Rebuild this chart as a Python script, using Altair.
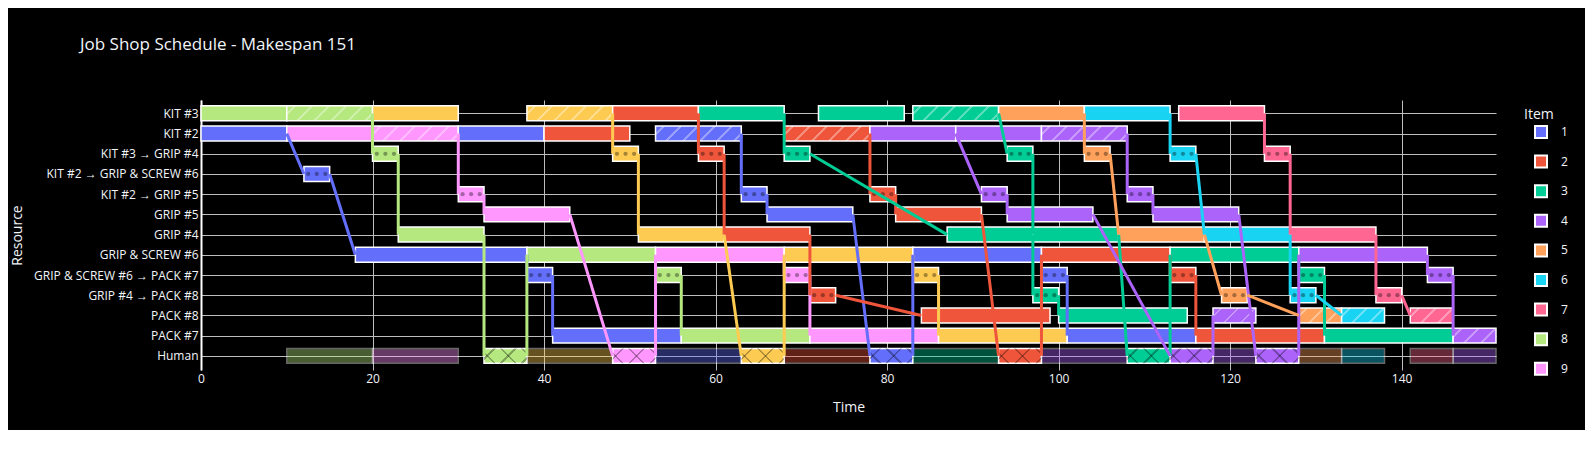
import json
import math
import altair as alt
import pandas as pd

# ---------------- data ----------------
ROWS = ["KIT #3", "KIT #2", "KIT #3 → GRIP #4", "KIT #2 → GRIP & SCREW #6",
        "KIT #2 → GRIP #5", "GRIP #5", "GRIP #4", "GRIP & SCREW #6",
        "GRIP & SCREW #6 → PACK #7", "GRIP #4 → PACK #8", "PACK #8", "PACK #7", "Human"]
ITEMS = ["1", "2", "3", "4", "5", "6", "7", "8", "9", "10"]
ITEM_COLORS = ["#636EFA", "#EF553B", "#00CC96", "#AB63FA", "#FFA15A",
               "#19D3F3", "#FF6692", "#B6E880", "#FF97FF", "#FECB52"]
LEGEND_ITEMS = ["1", "2", "3", "4", "5", "6", "7", "8", "9"]
X_TICKS = [0, 20, 40, 60, 80, 100, 120, 140]
MAKESPAN = 151
TITLE = "Job Shop Schedule - Makespan 151"

K3, K2, T34, T26, T25, G5, G4, GS6, T67, T48, P8, P7, HU = ROWS

# each job: item, then steps; a step is a list of segments (row, start, end, style)
JOB_01 = ("1", [[(K2, 0, 10, "solid")], [(T26, 12, 15, "dots")], [(GS6, 18, 38, "solid")],
                [(T67, 38, 41, "dots")], [(P7, 41, 56, "solid")]])
JOB_02 = ("8", [[(K3, 0, 10, "solid"), (K3, 10, 20, "hatch")], [(T34, 20, 23, "dots")],
                [(G4, 23, 33, "solid")], [(HU, 33, 38, "cross")], [(GS6, 38, 53, "solid")],
                [(T67, 53, 56, "dots")], [(P7, 56, 71, "solid")]])
JOB_03 = ("9", [[(K2, 10, 20, "solid"), (K2, 20, 30, "hatch")], [(T25, 30, 33, "dots")],
                [(G5, 33, 43, "solid")], [(HU, 48, 53, "cross")], [(GS6, 53, 68, "solid")],
                [(T67, 68, 71, "dots")], [(P7, 71, 86, "solid")]])
JOB_04 = ("10", [[(K3, 20, 30, "solid"), (K3, 38, 48, "hatch")], [(T34, 48, 51, "dots")],
                 [(G4, 51, 61, "solid")], [(HU, 63, 68, "cross")], [(GS6, 68, 83, "solid")],
                 [(T67, 83, 86, "dots")], [(P7, 86, 101, "solid")]])
JOB_05 = ("1", [[(K2, 30, 40, "solid"), (K2, 53, 63, "hatch")], [(T25, 63, 66, "dots")],
                [(G5, 66, 76, "solid")], [(HU, 78, 83, "cross")], [(GS6, 83, 98, "solid")],
                [(T67, 98, 101, "dots")], [(P7, 101, 116, "solid")]])
JOB_06 = ("2", [[(K3, 48, 58, "solid")], [(T34, 58, 61, "dots")], [(G4, 61, 71, "solid")],
                [(T48, 71, 74, "dots")], [(P8, 84, 99, "solid")]])
JOB_07 = ("2", [[(K2, 40, 50, "solid"), (K2, 68, 78, "hatch")], [(T25, 78, 81, "dots")],
                [(G5, 81, 91, "solid")], [(HU, 93, 98, "cross")], [(GS6, 98, 113, "solid")],
                [(T67, 113, 116, "dots")], [(P7, 116, 131, "solid")]])
JOB_08 = ("3", [[(K3, 58, 68, "solid")], [(T34, 68, 71, "dots")], [(G4, 87, 97, "solid")],
                [(T48, 97, 100, "dots")], [(P8, 100, 115, "solid")]])
JOB_09 = ("3", [[(K3, 72, 82, "solid"), (K3, 83, 93, "hatch")], [(T34, 94, 97, "dots")],
                [(G4, 97, 107, "solid")], [(HU, 108, 113, "cross")], [(GS6, 113, 128, "solid")],
                [(T67, 128, 131, "dots")], [(P7, 131, 146, "solid")]])
JOB_10 = ("4", [[(K2, 78, 88, "solid")], [(T25, 91, 94, "dots")], [(G5, 94, 104, "solid")],
                [(HU, 113, 118, "cross")], [(P8, 118, 123, "hatch")]])
JOB_11 = ("4", [[(K2, 88, 98, "solid"), (K2, 98, 108, "hatch")], [(T25, 108, 111, "dots")],
                [(G5, 111, 121, "solid")], [(HU, 123, 128, "cross")], [(GS6, 128, 143, "solid")],
                [(T67, 143, 146, "dots")], [(P7, 146, 151, "hatch")]])
JOB_12 = ("5", [[(K3, 93, 103, "solid")], [(T34, 103, 106, "dots")], [(G4, 107, 117, "solid")],
                [(T48, 119, 122, "dots")], [(P8, 128, 133, "hatch")]])
JOB_13 = ("6", [[(K3, 103, 113, "solid")], [(T34, 113, 116, "dots")], [(G4, 117, 127, "solid")],
                [(T48, 127, 130, "dots")], [(P8, 133, 138, "hatch")]])
JOB_14 = ("7", [[(K3, 114, 124, "solid")], [(T34, 124, 127, "dots")], [(G4, 127, 137, "solid")],
                [(T48, 137, 140, "dots")], [(P8, 141, 146, "hatch")]])
JOBS = [JOB_01, JOB_02, JOB_03, JOB_04, JOB_05, JOB_06, JOB_07,
        JOB_08, JOB_09, JOB_10, JOB_11, JOB_12, JOB_13, JOB_14]

# ---------------- layout constants ----------------
PLOT_W, PLOT_H = 1295, 270
Y_DOMAIN = [-0.66, 12.7]
HALF = 0.37
FG = "#f2f5fa"
GRID = "#bdbdbd"
FONT = "Open Sans"
DOT_OFFSETS = [0.5, 1.5, 2.5]

row_index = {r: i for i, r in enumerate(ROWS)}
item_hex = dict(zip(ITEMS, ITEM_COLORS))

bars, faded, links, dots = [], [], [], []
for item, steps in JOBS:
    for s_i, step in enumerate(steps):
        for (row, a, b, style) in step:
            yi = row_index[row]
            bars.append(dict(item=item, start=a, end=b, y0=yi - HALF, y1=yi + HALF,
                             style=style, dur=b - a))
            if style == "hatch":
                hy = row_index[HU]
                faded.append(dict(item=item, hex=item_hex[item], start=a, end=b,
                                  y0=hy - HALF, y1=hy + HALF))
            if style == "dots":
                for off in DOT_OFFSETS:
                    dots.append(dict(t=a + off, yc=yi))
        if s_i + 1 < len(steps):
            last = step[-1]
            nxt = steps[s_i + 1][0]
            links.append(dict(item=item, hex=item_hex[item], start=last[2], end=nxt[1],
                              ya=row_index[last[0]], yb=row_index[nxt[0]]))

bars_df = pd.DataFrame(bars)
faded_df = pd.DataFrame(faded)
links_df = pd.DataFrame(links)
dots_df = pd.DataFrame(dots)

px_x = PLOT_W / MAKESPAN
px_y = PLOT_H / (Y_DOMAIN[1] - Y_DOMAIN[0])
BAR_H = 2 * HALF * px_y


def stripes(w, h, period, color, thick, direction):
    clear = "rgba(0,0,0,0)"
    r = h / w
    k = (1 + r) / (1 + r * r)
    if direction == "/":
        x1, y1, x2, y2 = 0, 0, k, k * r
    else:
        x1, y1, x2, y2 = 0, 1, k, 1 - k * r
    n = (w + h) / period
    half = thick * math.sqrt(2) / (w + h) / 2
    stops = [{"offset": 0, "color": clear}]
    i = 0
    while True:
        c = (i + 0.5) / n
        if c - half >= 1:
            break
        lo, hi = max(0.0, c - half), min(1.0, c + half)
        stops += [{"offset": lo, "color": clear}, {"offset": lo, "color": color},
                  {"offset": hi, "color": color}, {"offset": hi, "color": clear}]
        i += 1
    stops.append({"offset": 1, "color": clear})
    return {"gradient": "linear", "x1": x1, "y1": y1, "x2": x2, "y2": y2, "stops": stops}


# ---------------- encodings ----------------
x_scale = alt.Scale(domain=[0, MAKESPAN], nice=False, zero=False)
y_scale = alt.Scale(domain=Y_DOMAIN, reverse=True, nice=False, zero=False)
color_scale = alt.Scale(domain=ITEMS, range=ITEM_COLORS)

x_axis = alt.Axis(values=X_TICKS, title="Time", grid=True, gridColor=GRID, gridWidth=1,
                  ticks=False, tickSize=0, domain=False, labelFont=FONT, labelFontSize=12,
                  labelColor=FG, labelPadding=3, labelFlush=False, titleFont=FONT,
                  titleFontSize=14, titleFontWeight="normal", titleColor=FG,
                  titleY=37, titleBaseline="middle")
y_axis = alt.Axis(values=list(range(len(ROWS))),
                  labelExpr=json.dumps(ROWS, ensure_ascii=False) + "[datum.value]",
                  title="Resource", grid=True, gridColor=GRID, gridWidth=1,
                  ticks=False, tickSize=0, domain=True, domainColor="white", domainWidth=2,
                  labelFont=FONT, labelFontSize=12, labelColor=FG, labelPadding=3,
                  labelOverlap=False, labelFlush=False, titleFont=FONT, titleFontSize=14,
                  titleFontWeight="normal", titleColor=FG, titleX=-184, titleY=PLOT_H / 2,
                  titleAngle=270, titleAlign="center", titleBaseline="middle")

legend = alt.Legend(orient="none", legendX=1323, legendY=8, title="Item", titleFont=FONT,
                    titleFontSize=14, titleFontWeight="normal", titleColor=FG,
                    labelFont=FONT, labelFontSize=12, labelColor=FG, symbolType="square",
                    symbolSize=144, symbolStrokeColor="white", symbolStrokeWidth=2,
                    symbolOpacity=1, rowPadding=9.6, labelOffset=13, symbolOffset=10,
                    titlePadding=3, values=LEGEND_ITEMS)


def pos(x="start", x2="end", y="y0", y2="y1"):
    return dict(x=alt.X(f"{x}:Q", scale=x_scale, axis=x_axis),
                x2=alt.X2(f"{x2}:Q"),
                y=alt.Y(f"{y}:Q", scale=y_scale, axis=y_axis),
                y2=alt.Y2(f"{y2}:Q"))


bar_layer = alt.Chart(bars_df).mark_rect(stroke="white", strokeWidth=1.5).encode(
    color=alt.Color("item:N", scale=color_scale, legend=legend), **pos())

faded_layer = alt.Chart(faded_df).mark_rect(stroke="white", strokeWidth=1.5, opacity=0.4).encode(
    fill=alt.Fill("hex:N", scale=None), **pos())

overlays = []
for dur in sorted(set(bars_df.loc[bars_df["style"] == "hatch", "dur"])):
    sub = bars_df[(bars_df["style"] == "hatch") & (bars_df["dur"] == dur)]
    g = stripes(dur * px_x, BAR_H, 17, "rgba(255,255,255,0.35)", 2, "/")
    overlays.append(alt.Chart(sub).mark_rect(fill=g).encode(**pos()))
for dur in sorted(set(bars_df.loc[bars_df["style"] == "cross", "dur"])):
    sub = bars_df[(bars_df["style"] == "cross") & (bars_df["dur"] == dur)]
    for d in ["/", "\\"]:
        g = stripes(dur * px_x, BAR_H, 21, "rgba(0,0,0,0.3)", 1.6, d)
        overlays.append(alt.Chart(sub).mark_rect(fill=g).encode(**pos()))

dot_layer = alt.Chart(dots_df).mark_circle(size=18, color="black", opacity=0.35).encode(
    x=alt.X("t:Q", scale=x_scale, axis=x_axis),
    y=alt.Y("yc:Q", scale=y_scale, axis=y_axis))

link_layer = alt.Chart(links_df).mark_rule(strokeWidth=3).encode(
    stroke=alt.Stroke("hex:N", scale=None),
    **pos(y="ya", y2="yb"))

chart = alt.layer(bar_layer, faded_layer, *overlays, dot_layer, link_layer).properties(
    width=PLOT_W, height=PLOT_H,
    padding={"left": 193, "top": 92, "right": 89, "bottom": 60},
    autosize=alt.AutoSizeParams(type="none"),
    background="black",
    title=alt.TitleParams(text=TITLE, anchor="start", frame="group", dx=-121, offset=33,
                          baseline="alphabetic", font=FONT, fontSize=17,
                          fontWeight="normal", color=FG),
).configure_view(stroke=None)

chart.save("out.html", embed_options={"renderer": "svg", "actions": False})
